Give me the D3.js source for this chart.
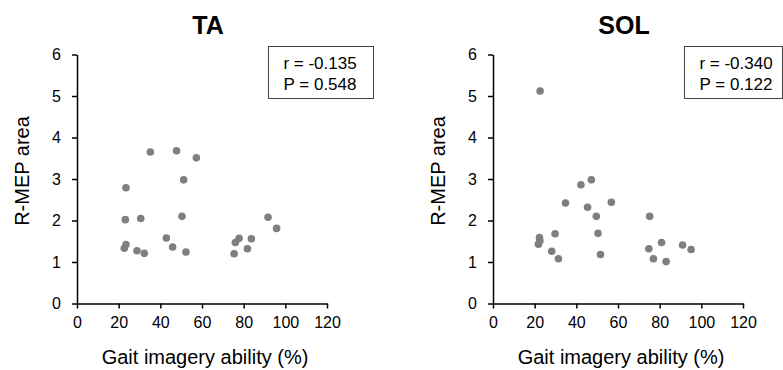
<!DOCTYPE html>
<html lang="en">

<head>
  <meta charset="UTF-8">
  <title>Gait imagery vs R-MEP area</title>
  <script src="https://d3js.org/d3.v7.min.js"></script>
  <style>
    body {
      margin: 0;
      background: #fff;
      font-family: "Liberation Sans", Arial, sans-serif;
    }

    .dot {
      fill: #7f7f7f;
    }

    .axis path,
    .axis line {
      stroke: #000;
      stroke-width: 1.5px;
    }

    .axis text {
      font-family: "Liberation Sans", Arial, sans-serif;
      font-size: 16px;
      fill: #000;
    }
  </style>
</head>

<body>
  <div id="chart"></div>

  <script>
    // Data
    const xTicks = [0, 20, 40, 60, 80, 100, 120];
    const yTicks = [0, 1, 2, 3, 4, 5, 6];

    const taGait = [35.2, 47.8, 57.3, 51.2, 23.5, 23.2, 30.6, 50.4, 42.9, 23.5, 22.7,
      28.8, 32.3, 45.9, 52.3, 75.4, 76.0, 77.8, 81.8, 83.7, 91.7, 95.8];
    const taArea = [3.65, 3.68, 3.51, 2.98, 2.79, 2.02, 2.05, 2.10, 1.58, 1.42, 1.33,
      1.27, 1.21, 1.36, 1.24, 1.20, 1.47, 1.57, 1.32, 1.56, 2.08, 1.81];

    const solGait = [22.6, 47.2, 42.2, 34.8, 45.4, 56.8, 49.6, 75.2, 22.3, 22.5, 21.8,
      29.8, 50.4, 28.2, 31.4, 51.6, 74.8, 80.9, 77.0, 83.1, 91.0, 95.1];
    const solArea = [5.12, 2.98, 2.86, 2.42, 2.32, 2.44, 2.10, 2.10, 1.59, 1.51, 1.43,
      1.68, 1.69, 1.26, 1.08, 1.18, 1.32, 1.47, 1.08, 1.01, 1.41, 1.30];

    const titles = ["TA", "SOL"];
    const rValues = ["-0.135", "-0.340"];
    const pValues = ["0.548", "0.122"];

    const svg = d3.select("#chart").append("svg")
      .attr("width", 783)
      .attr("height", 370);

    const plotW = 250, plotTop = 54.5, plotBottom = 303.5;

    function drawPanel(left, boxW, title, gait, area, r, p) {
      const x = d3.scaleLinear().domain([0, 120]).range([left, left + plotW]);
      const y = d3.scaleLinear().domain([0, 6]).range([plotBottom, plotTop]);

      const g = svg.append("g");

      g.append("g")
        .attr("class", "axis")
        .attr("transform", `translate(0,${plotBottom})`)
        .call(d3.axisBottom(x).tickValues(xTicks).tickFormat(d3.format("d"))
          .tickSizeInner(5).tickSizeOuter(0).tickPadding(8));

      g.append("g")
        .attr("class", "axis")
        .attr("transform", `translate(${left},0)`)
        .call(d3.axisLeft(y).tickValues(yTicks).tickFormat(d3.format("d"))
          .tickSizeInner(5).tickSizeOuter(0).tickPadding(11));

      g.selectAll(".dot")
        .data(d3.zip(gait, area))
        .enter().append("circle")
        .attr("class", "dot")
        .attr("cx", d => x(d[0]))
        .attr("cy", d => y(d[1]))
        .attr("r", 3.8);

      // title
      g.append("text")
        .attr("x", left + 131)
        .attr("y", 34)
        .attr("text-anchor", "middle")
        .attr("font-size", "25px")
        .attr("font-weight", "bold")
        .text(title);

      // axis labels
      g.append("text")
        .attr("x", left + 128)
        .attr("y", 364)
        .attr("text-anchor", "middle")
        .attr("font-size", "20px")
        .text("Gait imagery ability (%)");

      g.append("text")
        .attr("transform", "rotate(-90)")
        .attr("x", -171)
        .attr("y", left - 48)
        .attr("text-anchor", "middle")
        .attr("font-size", "20px")
        .text("R-MEP area");

      // stats box
      const bx = left + 191;
      g.append("rect")
        .attr("x", bx + 0.5)
        .attr("y", 46.5)
        .attr("width", boxW)
        .attr("height", 52)
        .attr("fill", "#fff")
        .attr("stroke", "#444")
        .attr("stroke-width", 1);

      g.append("text")
        .attr("x", bx + 52)
        .attr("y", 68.5)
        .attr("text-anchor", "middle")
        .attr("font-size", "17px")
        .text(`r = ${r}`);

      g.append("text")
        .attr("x", bx + 52)
        .attr("y", 90)
        .attr("text-anchor", "middle")
        .attr("font-size", "17px")
        .text(`P = ${p}`);
    }

    drawPanel(77, 105, titles[0], taGait, taArea, rValues[0], pValues[0]);
    drawPanel(493, 98, titles[1], solGait, solArea, rValues[1], pValues[1]);
  </script>
</body>

</html>
